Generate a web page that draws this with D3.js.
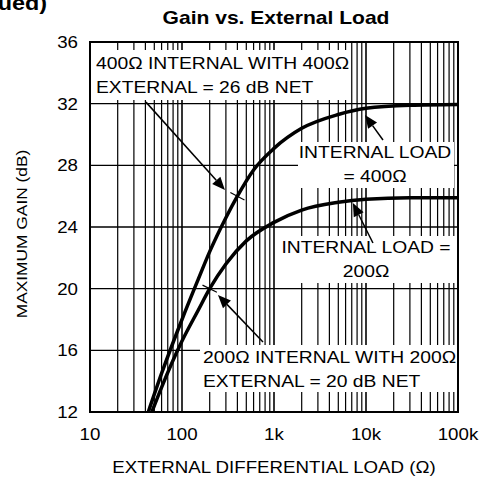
<!DOCTYPE html>
<html>
<head>
<meta charset="utf-8">
<script src="https://cdn.jsdelivr.net/npm/d3@7"></script>
<style>
  html, body { margin: 0; padding: 0; background: #fff; }
  svg { display: block; font-family: "Liberation Sans", Arial, sans-serif; }
</style>
</head>
<body>
<svg id="chart" width="484" height="480"></svg>
<script>
// values
const loadOhms400 = [43, 60, 100, 150, 200, 300, 400, 600, 1000, 2000, 5000, 10000, 30000, 100000];
const gain400     = [12, 14.5, 18, 20.6, 22.4, 24.6, 26, 27.7, 29.1, 30.4, 31.3, 31.7, 31.9, 31.95];
const loadOhms200 = [47, 60, 100, 150, 200, 300, 500, 1000, 2000, 5000, 10000, 30000, 100000];
const gain200     = [12, 13.6, 16.6, 18.6, 20, 21.6, 23.1, 24.3, 25.1, 25.6, 25.8, 25.9, 25.9];

const xTickVals = [10, 100, 1000, 10000, 100000];
const xTickText = ['10', '100', '1k', '10k', '100k'];
const yTickVals = [12, 16, 20, 24, 28, 32, 36];

// annotations: arrow from -> to, in data units; mark = point on curve that gets a cross tick
const notes = [
  { lines: ['400\u03A9 INTERNAL WITH 400\u03A9', 'EXTERNAL = 26 dB NET'], anchor: 'start', from: [40.6, 32.1], to: [293, 26.4], mark: [400, 26] },
  { lines: ['INTERNAL LOAD', '= 400\u03A9'], anchor: 'middle', from: [15300, 29.64], to: [9750, 31.26] },
  { lines: ['INTERNAL LOAD =', '200\u03A9'], anchor: 'middle', from: [11900, 22.96], to: [7200, 25.55] },
  { lines: ['200\u03A9 INTERNAL WITH 200\u03A9', 'EXTERNAL = 20 dB NET'], anchor: 'start', from: [759, 16.54], to: [246, 19.59], mark: [200, 20] }
];

const W = 484, H = 480;
const m = { left: 90, right: 26, top: 42, bottom: 68 };
const SX = 1.17; // the reference type is drawn a bit wide

const svg = d3.select('#chart');
const x = d3.scaleLog().domain([10, 100000]).range([m.left, W - m.right]);
const y = d3.scaleLinear().domain([12, 36]).range([H - m.bottom, m.top]);

function txt(g, px, py, s, o = {}) {
  return g.append('text')
    .attr('transform', `translate(${px},${py}) scale(${o.sx || SX},1)`)
    .attr('text-anchor', o.anchor || 'start')
    .attr('font-size', o.size || 16)
    .attr('font-weight', o.bold ? 'bold' : null)
    .attr('fill', '#000')
    .text(s);
}

// clipped "(Continued)" from the page header
txt(svg, 47, 10, '(Continued)', { anchor: 'end', size: 20, bold: true });

// title
txt(svg, 276, 24, 'Gain vs. External Load', { anchor: 'middle', size: 18, bold: true });

// grid
const grid = svg.append('g');
grid.selectAll('line.v').data(x.ticks()).join('line')
  .attr('x1', d => x(d)).attr('x2', d => x(d))
  .attr('y1', y(12)).attr('y2', y(36))
  .attr('stroke', '#000')
  .attr('stroke-width', d => xTickVals.includes(d) ? 1.6 : 1.2);
grid.selectAll('line.h').data(yTickVals).join('line')
  .attr('x1', x(10)).attr('x2', x(100000))
  .attr('y1', d => y(d)).attr('y2', d => y(d))
  .attr('stroke', '#000').attr('stroke-width', 1.3);

// axis labels
svg.append('g').selectAll('g').data(xTickVals).join('g')
  .each(function (d, i) { txt(d3.select(this), x(d), 440, xTickText[i], { anchor: 'middle', size: 16 }); });
svg.append('g').selectAll('g').data(yTickVals).join('g')
  .each(function (d) { txt(d3.select(this), m.left - 12, y(d) + 6, d, { anchor: 'end', size: 16 }); });

txt(svg, 274, 473, 'EXTERNAL DIFFERENTIAL LOAD (\u03A9)', { anchor: 'middle', size: 16 });
svg.append('text')
  .attr('transform', `translate(27,234) rotate(-90) scale(1.12,1)`)
  .attr('text-anchor', 'middle').attr('font-size', 15.5)
  .text('MAXIMUM GAIN (dB)');

// annotation text boxes (white, hiding the grid)
const boxes = [
  { x0: 91, y0: 50, x1: 351, y1: 100, tx: 96, ty: 69 },
  { x0: 298, y0: 142, x1: 454, y1: 188, tx: 375, ty: 158 },
  { x0: 281, y0: 236, x1: 456, y1: 283, tx: 366, ty: 253 },
  { x0: 200, y0: 345, x1: 457, y1: 392, tx: 203, ty: 363 }
];
const ann = svg.append('g');
ann.selectAll('rect').data(boxes).join('rect')
  .attr('x', d => d.x0).attr('y', d => d.y0)
  .attr('width', d => d.x1 - d.x0).attr('height', d => d.y1 - d.y0)
  .attr('fill', '#fff');

// curves
const line = d3.line().x(d => x(d[0])).y(d => y(d[1])).curve(d3.curveMonotoneX);
svg.append('path').datum(d3.zip(loadOhms400, gain400))
  .attr('d', line).attr('fill', 'none').attr('stroke', '#000').attr('stroke-width', 3.5);
svg.append('path').datum(d3.zip(loadOhms200, gain200))
  .attr('d', line).attr('fill', 'none').attr('stroke', '#000').attr('stroke-width', 3.5);

// annotation text + arrows
notes.forEach((n, i) => {
  const b = boxes[i];
  n.lines.forEach((s, k) => txt(ann, b.tx, b.ty + k * 23.5, s, { anchor: n.anchor, size: 16.5 }));

  const [x0, y0] = [x(n.from[0]), y(n.from[1])];
  const [x1, y1] = [x(n.to[0]), y(n.to[1])];
  const ang = Math.atan2(y1 - y0, x1 - x0);
  const L = 13, hw = 5.5;
  const bx = x1 - L * Math.cos(ang), by = y1 - L * Math.sin(ang);
  ann.append('line').attr('x1', x0).attr('y1', y0).attr('x2', bx).attr('y2', by)
    .attr('stroke', '#000').attr('stroke-width', 1.5);
  ann.append('path')
    .attr('d', `M${x1},${y1}L${bx - hw * Math.sin(ang)},${by + hw * Math.cos(ang)}L${bx + hw * Math.sin(ang)},${by - hw * Math.cos(ang)}Z`)
    .attr('fill', '#000');
  if (n.mark) {
    // short cross tick across the curve at the marked point
    const cx = x(n.mark[0]), cy = y(n.mark[1]);
    const a2 = ang - 0.35;
    ann.append('line')
      .attr('x1', cx - 8 * Math.cos(a2)).attr('y1', cy - 8 * Math.sin(a2))
      .attr('x2', cx + 8 * Math.cos(a2)).attr('y2', cy + 8 * Math.sin(a2))
      .attr('stroke', '#000').attr('stroke-width', 1.2);
  }
});

// frame
svg.append('rect')
  .attr('x', x(10)).attr('y', y(36))
  .attr('width', x(100000) - x(10)).attr('height', y(12) - y(36))
  .attr('fill', 'none').attr('stroke', '#000').attr('stroke-width', 2);
</script>
</body>
</html>
